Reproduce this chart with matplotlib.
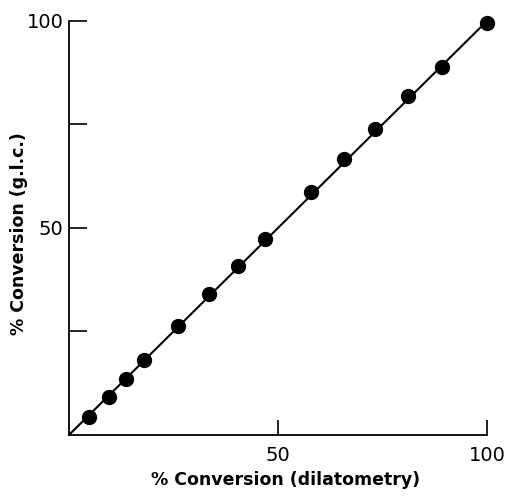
import matplotlib.pyplot as plt
import numpy as np

# % conversion by dilatometry vs by g.l.c.
dilatometry = [4.9, 9.6, 13.7, 18.0, 26.1, 33.6, 40.5, 46.9, 57.9, 65.8, 73.2, 81.1, 89.3, 100.0]
glc = [4.4, 9.1, 13.5, 18.1, 26.4, 34.0, 40.9, 47.3, 58.6, 66.7, 73.8, 82.0, 89.0, 99.6]

line_x = [0, 100]
line_y = [0, 100]

fig = plt.figure(figsize=(5.07, 4.96), dpi=100)
ax = fig.add_axes([0.136, 0.123, 0.8245, 0.8347])

ax.plot(line_x, line_y, color='black', lw=1.5, solid_capstyle='butt', clip_on=False)
ax.plot(dilatometry, glc, 'o', color='black', ms=10, clip_on=False)

ax.set_xlim(0, 100)
ax.set_ylim(0, 100)

ax.spines['top'].set_visible(False)
ax.spines['right'].set_visible(False)
for s in ('left', 'bottom'):
    ax.spines[s].set_linewidth(1.3)

ax.set_xticks([50, 100])
ax.set_yticks([25, 50, 75, 100])
ax.set_yticklabels(['', '50', '', '100'])
ax.tick_params(direction='in', length=13, width=1.2, labelsize=14, pad=4)
ax.tick_params(axis='x', length=11, pad=8)

ax.set_xlabel('% Conversion (dilatometry)', fontsize=12.5, fontweight='bold')
ax.set_ylabel('% Conversion (g.l.c.)', fontsize=12.5, fontweight='bold')
ax.xaxis.set_label_coords(0.517, -0.087)
ax.yaxis.set_label_coords(-0.098, 0.486)

fig.savefig('out.png', dpi=100)
